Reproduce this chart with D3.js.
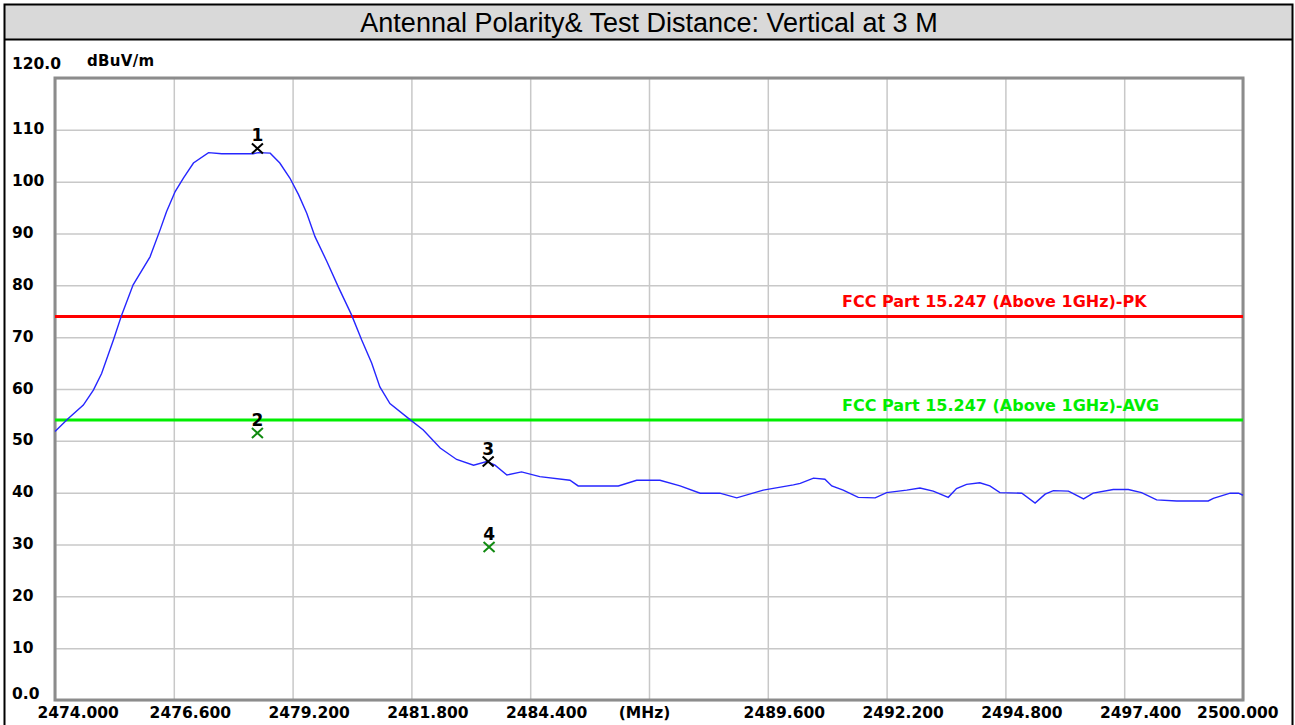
<!DOCTYPE html>
<html>
<head>
<meta charset="utf-8">
<script src="https://cdn.jsdelivr.net/npm/d3@7"></script>
<style>
    body { margin: 0; background: #fff; }
    svg { display: block; }
</style>
</head>
<body>
<div id="chart"></div>
<script>
var traceFreq = [2474.00, 2474.29, 2474.62, 2474.84, 2475.02, 2475.28, 2475.46, 2475.71, 2476.08, 2476.30,
    2476.44, 2476.63, 2476.81, 2477.03, 2477.36, 2477.65, 2478.34, 2478.45, 2478.71, 2478.92,
    2479.14, 2479.33, 2479.51, 2479.69, 2479.95, 2480.20, 2480.49, 2480.71, 2480.93, 2481.11,
    2481.33, 2481.77, 2482.06, 2482.43, 2482.79, 2483.16, 2483.45, 2483.63, 2483.89, 2484.21,
    2484.61, 2485.27, 2485.45, 2485.93, 2486.33, 2486.73, 2487.24, 2487.68, 2488.12, 2488.55,
    2488.92, 2489.50, 2490.16, 2490.31, 2490.60, 2490.85, 2491.00, 2491.25, 2491.58, 2491.95,
    2492.20, 2492.64, 2492.93, 2493.22, 2493.55, 2493.73, 2493.95, 2494.24, 2494.46, 2494.68,
    2495.16, 2495.45, 2495.67, 2495.85, 2496.18, 2496.51, 2496.72, 2497.16, 2497.49, 2497.78,
    2498.11, 2498.55, 2499.24, 2499.35, 2499.72, 2499.90, 2500.00];
var traceLevel = [51.8, 54.3, 56.9, 59.8, 63.0, 69.5, 74.3, 80.1, 85.5, 90.7,
    94.2, 98.1, 100.7, 103.6, 105.6, 105.4, 105.4, 105.6, 105.5, 103.6,
    100.7, 97.5, 93.9, 89.4, 84.6, 79.7, 74.3, 69.5, 65.0, 60.4,
    57.2, 54.1, 52.1, 48.6, 46.4, 45.3, 46.0, 45.3, 43.4, 44.0,
    43.1, 42.4, 41.3, 41.3, 41.3, 42.4, 42.4, 41.3, 39.9, 39.9,
    39.0, 40.5, 41.5, 41.8, 42.8, 42.6, 41.3, 40.5, 39.1, 39.0,
    40.0, 40.5, 40.9, 40.3, 39.1, 40.8, 41.6, 41.9, 41.3, 40.0,
    39.9, 38.0, 39.7, 40.4, 40.3, 38.8, 39.9, 40.6, 40.6, 40.0,
    38.6, 38.4, 38.4, 38.9, 39.9, 39.9, 39.5];

var freqTicks = [2474.0, 2476.6, 2479.2, 2481.8, 2484.4, 2487.0, 2489.6, 2492.2, 2494.8, 2497.4, 2500.0];
var freqTickLabels = ["2474.000", "2476.600", "2479.200", "2481.800", "2484.400", "(MHz)",
    "2489.600", "2492.200", "2494.800", "2497.400", "2500.000"];
var levelTicks = [0, 10, 20, 30, 40, 50, 60, 70, 80, 90, 100, 110, 120];
var levelTickLabels = ["0.0", "10", "20", "30", "40", "50", "60", "70", "80", "90", "100", "110", "120.0"];

var limitNames = ["FCC Part 15.247 (Above 1GHz)-PK", "FCC Part 15.247 (Above 1GHz)-AVG"];
var limitLevels = [74, 54];

var markerIds = ["1", "2", "3", "4"];
var markerFreqs = [2478.43, 2478.43, 2483.48, 2483.50];
var markerLevels = [106.4, 51.5, 46.0, 29.5];
var markerDetectors = ["PK", "AVG", "PK", "AVG"];

var titleText = "Antennal Polarity& Test Distance: Vertical at 3 M";
var unitText = "dBuV/m";

function SpectrumChart() {};

SpectrumChart.prototype = {
    setup: function() {
        this.width = 1295;
        this.height = 725;
        this.plot = {left: 55, right: 1243, top: 78, bottom: 700};
        this.labelFont = "'DejaVu Sans', sans-serif";

        this.svg = d3.select("#chart").append("svg")
            .attr("width", this.width)
            .attr("height", this.height);

        this.x = d3.scaleLinear().domain([2474, 2500]).range([this.plot.left, this.plot.right]);
        this.y = d3.scaleLinear().domain([0, 120]).range([this.plot.bottom, this.plot.top]);

        this.drawBox();
        this.drawGrid();
        this.drawLimits();
        this.drawTrace();
        this.drawMarkers();
    },

    drawBox: function() {
        var svg = this.svg;
        svg.append("rect")
            .attr("x", 4).attr("y", 4)
            .attr("width", 1289).attr("height", 36)
            .attr("fill", "#d9d9d9");
        // outer border
        svg.append("rect")
            .attr("x", 4.5).attr("y", 4.5)
            .attr("width", 1288).attr("height", 730)
            .attr("fill", "none")
            .attr("stroke", "#000").attr("stroke-width", 2);
        svg.append("line")
            .attr("x1", 4).attr("x2", 1293)
            .attr("y1", 39.5).attr("y2", 39.5)
            .attr("stroke", "#000").attr("stroke-width", 2);

        svg.append("text")
            .attr("x", 649).attr("y", 32)
            .attr("text-anchor", "middle")
            .style("font-family", "'Liberation Sans', Arial, sans-serif")
            .style("font-size", "27px")
            .text(titleText);

        svg.append("text")
            .attr("x", 87).attr("y", 66)
            .style("font-family", this.labelFont)
            .style("font-weight", "bold")
            .style("font-size", "15px")
            .style("letter-spacing", "0.3px")
            .text(unitText);
    },

    drawGrid: function() {
        var self = this,
            p = this.plot,
            plotW = p.right - p.left,
            plotH = p.bottom - p.top;

        var yAxis = d3.axisLeft(this.y)
            .tickValues(levelTicks)
            .tickSize(-plotW)
            .tickFormat(function(d, i) { return levelTickLabels[i]; });

        var gy = this.svg.append("g")
            .attr("transform", "translate(" + p.left + ",0)")
            .call(yAxis);
        gy.select(".domain").remove();
        gy.selectAll(".tick line").attr("stroke", "#c8c8c8").attr("stroke-width", 1.5);
        gy.selectAll(".tick text")
            .attr("text-anchor", "start")
            .attr("x", 12 - p.left)
            .attr("dy", null)
            .attr("y", function(d) {
                if (d === 0) return -2;
                if (d === 120) return -10;
                return 4;
            })
            .attr("fill", "#000")
            .style("font-family", self.labelFont)
            .style("font-weight", "bold")
            .style("font-size", "15.5px");

        var xAxis = d3.axisBottom(this.x)
            .tickValues(freqTicks)
            .tickSize(-plotH)
            .tickFormat(function(d, i) { return freqTickLabels[i]; });

        var gx = this.svg.append("g")
            .attr("transform", "translate(0," + p.bottom + ")")
            .call(xAxis);
        gx.select(".domain").remove();
        gx.selectAll(".tick line").attr("stroke", "#c8c8c8").attr("stroke-width", 1.5);
        var last = freqTicks.length - 1;
        gx.selectAll(".tick text")
            .attr("dy", null)
            .attr("y", 18)
            .attr("fill", "#000")
            .attr("text-anchor", function(d, i) {
                if (i === 0) return "start";
                if (i === last) return "end";
                return "middle";
            })
            .attr("x", function(d, i) {
                if (i === 0) return -18;
                if (i === last) return 35;
                if (freqTickLabels[i] === "(MHz)") return -5;
                return 16;
            })
            .style("font-family", self.labelFont)
            .style("font-weight", "bold")
            .style("font-size", "15.5px");

        // plot frame
        this.svg.append("rect")
            .attr("x", p.left).attr("y", p.top)
            .attr("width", plotW).attr("height", plotH)
            .attr("fill", "none")
            .attr("stroke", "#8c8c8c")
            .attr("stroke-width", 3);
    },

    drawLimits: function() {
        var self = this,
            colours = {"PK": "#ff0000", "AVG": "#00ee00"};

        var g = this.svg.append("g");
        limitNames.forEach(function(name, i) {
            var c = name.slice(-3) === "AVG" ? colours.AVG : colours.PK;
            g.append("line")
                .attr("x1", self.x(2474)).attr("x2", self.x(2500))
                .attr("y1", self.y(limitLevels[i])).attr("y2", self.y(limitLevels[i]))
                .attr("stroke", c)
                .attr("stroke-width", 3);
            g.append("text")
                .attr("x", 842)
                .attr("y", self.y(limitLevels[i]) - 9)
                .attr("fill", c)
                .style("font-family", self.labelFont)
                .style("font-weight", "bold")
                .style("font-size", "16px")
                .text(name);
        });
    },

    drawTrace: function() {
        var self = this,
            pts = traceFreq.map(function(f, i) { return [f, traceLevel[i]]; });

        var line = d3.line()
            .x(function(d) { return self.x(d[0]); })
            .y(function(d) { return self.y(d[1]); });

        this.svg.append("path")
            .datum(pts)
            .attr("d", line)
            .attr("fill", "none")
            .attr("stroke", "#2626ff")
            .attr("stroke-width", 1.4);
    },

    drawMarkers: function() {
        var self = this,
            g = this.svg.append("g");

        markerIds.forEach(function(id, i) {
            var cx = self.x(markerFreqs[i]),
                cy = self.y(markerLevels[i]),
                c = markerDetectors[i] === "AVG" ? "#108a10" : "#000";
            g.append("path")
                .attr("d", "M" + (cx - 5.5) + "," + (cy - 5) + "L" + (cx + 5.5) + "," + (cy + 5) +
                           "M" + (cx + 5.5) + "," + (cy - 5) + "L" + (cx - 5.5) + "," + (cy + 5))
                .attr("stroke", c)
                .attr("stroke-width", 2)
                .attr("fill", "none");
            g.append("text")
                .attr("x", cx)
                .attr("y", cy - 7)
                .attr("text-anchor", "middle")
                .style("font-family", self.labelFont)
                .style("font-weight", "bold")
                .style("font-size", "17px")
                .text(id);
        });
    }
};

var chart = new SpectrumChart();
chart.setup();
</script>
</body>
</html>
